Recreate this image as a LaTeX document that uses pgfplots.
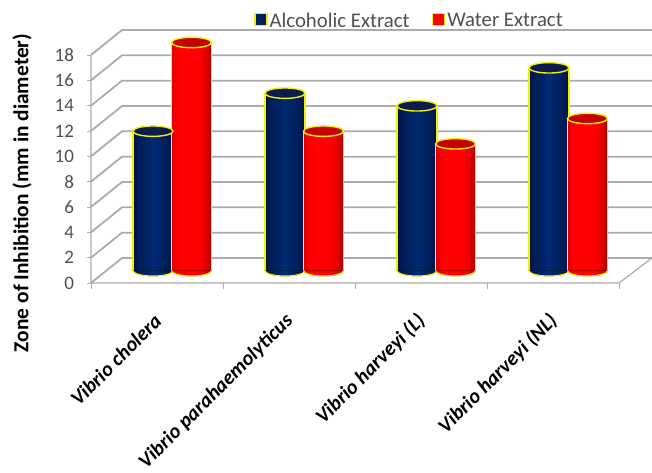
\documentclass[border=0pt]{standalone}
\usepackage{fontspec}
\setmainfont{Carlito}
\usepackage{pgfplots}
\usepackage{pgfplotstable}
\pgfplotsset{compat=1.18}

\definecolor{wallgray}{HTML}{ABABAB}
\definecolor{inkgray}{HTML}{505050}
\definecolor{bluekey}{HTML}{002060}
\definecolor{bluetop}{HTML}{0A1D4E}
\definecolor{redkey}{HTML}{FF0000}
\definecolor{redtop}{HTML}{C40000}
\definecolor{rim}{HTML}{F5F000}

% the path's box fits between 25bp and 75bp
\pgfdeclarehorizontalshading{cylblue}{100bp}{rgb(0bp)=(0,0.08,0.27); rgb(25bp)=(0,0.08,0.27); rgb(32bp)=(0,0.11,0.34); rgb(50bp)=(0,0.17,0.45); rgb(68bp)=(0,0.11,0.34); rgb(75bp)=(0,0.08,0.27); rgb(100bp)=(0,0.08,0.27)}
\pgfdeclarehorizontalshading{cylred}{100bp}{rgb(0bp)=(0.86,0,0); rgb(25bp)=(0.86,0,0); rgb(30bp)=(0.96,0,0); rgb(36bp)=(1,0,0); rgb(58bp)=(1,0,0); rgb(68bp)=(0.88,0,0); rgb(75bp)=(0.68,0,0); rgb(100bp)=(0.68,0,0)}

\newcommand\cylmarks[3]{%
  \pgfdeclareplotmark{top#1}{\draw[rim,line width=1.4pt,fill=#2,rotate=6] (0pt,0pt) ellipse [x radius=20pt,y radius=5.2pt];}
  \pgfdeclareplotmark{base#1}{%
    \begin{scope}
      \clip[rotate=6] (-20pt,0pt) arc [start angle=180,end angle=360,x radius=20pt,y radius=5.5pt] -- cycle;
      \path[shading=#3] (-20pt,-9pt) rectangle (20pt,4pt);
    \end{scope}
    \draw[rim,line width=1.1pt,rotate=6] (-20pt,0pt) arc [start angle=180,end angle=360,x radius=20pt,y radius=5.5pt];}}
\cylmarks{blue}{bluetop}{cylblue}
\cylmarks{red}{redtop}{cylred}

\pgfplotstableread{
cat alc wat base
0   11  18  0
1   14  11  0
2   13  10  0
3   16  12  0
}\zone

\begin{document}
\begin{tikzpicture}
\path[use as bounding box] (0,0) rectangle (652pt,472pt);
\begin{axis}[
    at={(91pt,189pt)},
    anchor=south west,
    scale only axis,
    width=561pt,
    height=253pt,
    xmin=-0.5, xmax=3.75,
    ymin=-0.987, ymax=18.987,
    clip=false,
    axis line style={draw=none},
    tick align=outside,
    xtick pos=bottom,
    ytick pos=left,
    tick style={wallgray,line width=1pt},
    major x tick style={draw=none},
    xtick={0,1,2,3},
    xticklabels={Vibrio cholera,Vibrio parahaemolyticus,Vibrio harveyi (L),Vibrio harveyi (NL)},
    minor xtick={-0.5,0.5,1.5,2.5,3.5},
    major tick length=4pt,
    minor tick length=6pt,
    xticklabel style={font=\fontsize{20.5}{21}\selectfont\bfseries\itshape,rotate=45,anchor=east,xshift=-17.7pt,yshift=-22.4pt},
    ytick={-0.987,1.013,3.013,5.013,7.013,9.013,11.013,13.013,15.013,17.013},
    yticklabels={0,2,4,6,8,10,12,14,16,18},
    yticklabel style={font=\fontsize{19}{19}\selectfont,text=inkgray,/pgf/number format/assume math mode=true,xshift=-9.5pt},
    every axis y label/.style={at={(axis description cs:-0.123,0.356)},rotate=90,anchor=center,font=\fontsize{21.4}{22}\selectfont\bfseries},
    ylabel={Zone of Inhibition (mm in diameter)},
    legend columns=2,
    legend style={at={(axis description cs:0.29,1.036)},anchor=west,draw=none,fill=none,inner xsep=0pt,
      font=\fontsize{20.8}{21}\selectfont,text=inkgray,
      /tikz/column 2/.style={column sep=20pt}},
]
% walls and floor
\pgfplotsset{wall/.style={wallgray,line width=1.8pt,forget plot}}
\addplot[wall] coordinates {(-0.5,-0.987) (-0.265,0.987) (3.75,0.987)};
\addplot[wall] coordinates {(-0.5,1.013) (-0.265,2.987) (3.75,2.987)};
\addplot[wall] coordinates {(-0.5,3.013) (-0.265,4.987) (3.75,4.987)};
\addplot[wall] coordinates {(-0.5,5.013) (-0.265,6.987) (3.75,6.987)};
\addplot[wall] coordinates {(-0.5,7.013) (-0.265,8.987) (3.75,8.987)};
\addplot[wall] coordinates {(-0.5,9.013) (-0.265,10.987) (3.75,10.987)};
\addplot[wall] coordinates {(-0.5,11.013) (-0.265,12.987) (3.75,12.987)};
\addplot[wall] coordinates {(-0.5,13.013) (-0.265,14.987) (3.75,14.987)};
\addplot[wall] coordinates {(-0.5,15.013) (-0.265,16.987) (3.75,16.987)};
\addplot[wall] coordinates {(-0.5,17.013) (-0.265,18.987) (3.75,18.987)};
\addplot[wall,line width=1.2pt] coordinates {(-0.5,17.013) (-0.5,-0.987) (3.5,-0.987) (3.75,0.987)};
% legend keys
\addlegendimage{legend image code/.code={\draw[rim,line width=1.7pt,fill=bluekey] (0pt,-4.5pt) rectangle (12pt,7.5pt);}}
\addlegendimage{legend image code/.code={\draw[rim,line width=1.7pt,fill=redkey] (0pt,-4.5pt) rectangle (12pt,7.5pt);}}
% alcoholic extract, one plot per bar so that each gets its own shading
\pgfplotsinvokeforeach{0,1,2,3}{
  \addplot[ybar,bar width=40pt,bar shift=-4pt,draw=none,shading=cylblue,forget plot,restrict x to domain=#1:#1]
    table[x=cat,y=alc] {\zone};
}
\addplot[only marks,mark=baseblue,mark options={xshift=-4pt},forget plot] table[x=cat,y=base] {\zone};
\addplot[ycomb,rim,line width=1.1pt,xshift=-24pt,forget plot] table[x=cat,y=alc] {\zone};
\addplot[ycomb,rim,line width=1.1pt,xshift=16pt,forget plot] table[x=cat,y=alc] {\zone};
\addplot[only marks,mark=topblue,mark options={xshift=-4pt},forget plot] table[x=cat,y=alc] {\zone};
% water extract
\pgfplotsinvokeforeach{0,1,2,3}{
  \addplot[ybar,bar width=40pt,bar shift=34.5pt,draw=none,shading=cylred,forget plot,restrict x to domain=#1:#1]
    table[x=cat,y=wat] {\zone};
}
\addplot[only marks,mark=basered,mark options={xshift=34.5pt},forget plot] table[x=cat,y=base] {\zone};
\addplot[ycomb,rim,line width=1.1pt,xshift=14.5pt,forget plot] table[x=cat,y=wat] {\zone};
\addplot[ycomb,rim,line width=1.1pt,xshift=54.5pt,forget plot] table[x=cat,y=wat] {\zone};
\addplot[only marks,mark=topred,mark options={xshift=34.5pt},forget plot] table[x=cat,y=wat] {\zone};
\legend{Alcoholic Extract,Water Extract}
\end{axis}
\end{tikzpicture}
\end{document}
